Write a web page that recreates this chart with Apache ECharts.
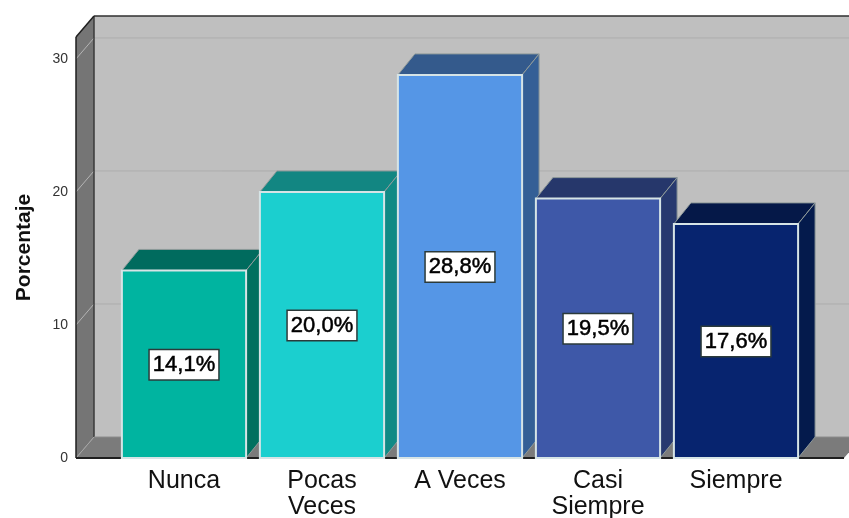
<!DOCTYPE html>
<html><head><meta charset="utf-8">
<style>html,body{margin:0;padding:0;background:#fff}#c{width:849px;height:518px}</style>
<script src="https://cdn.jsdelivr.net/npm/echarts@6/dist/echarts.min.js"></script>
</head><body><div id="c"></div>
<script>
const categories = ["Nunca", "Pocas\nVeces", "A Veces", "Casi\nSiempre", "Siempre"];
const values = [14.1, 20.0, 28.8, 19.5, 17.6];
const valueLabels = ["14,1%", "20,0%", "28,8%", "19,5%", "17,6%"];
const frontColors = ["#00b4a0", "#1bcfcf", "#5596e6", "#3e58a8", "#07246f"];
const topColors = ["#006b5e", "#128682", "#345a8c", "#26376b", "#051848"];
const sideColors = ["#00705f", "#118a85", "#345f96", "#27396f", "#041a4c"];
const gridTicks = [0, 10, 20, 30];
const axisMax = 31.65;
const DX = 17, DY = -21, SIDE = 39;

function poly(points, fill, stroke, lw) {
  return {type: 'polygon', shape: {points}, style: {fill, stroke: stroke || 'none', lineWidth: lw || 0}};
}
function line(x1, y1, x2, y2, stroke, lw) {
  return {type: 'line', shape: {x1, y1, x2, y2}, style: {stroke, lineWidth: lw}};
}
function renderWalls(params, api) {
  const cs = params.coordSys;
  const L = cs.x - SIDE, R = cs.x + cs.width + SIDE, T = cs.y, B = cs.y + cs.height;
  const dx = DX + 1;
  const kids = [
    poly([[L + dx, T + DY], [R + dx, T + DY], [R + dx, B + DY], [L + dx, B + DY]], '#bfbfbf'),
    poly([[L, T], [L + dx, T + DY], [L + dx, B + DY], [L, B]], '#757575'),
    poly([[L, B], [L + dx, B + DY], [R + dx, B + DY], [R, B]], '#7b7b7b')
  ];
  gridTicks.slice(1).forEach(t => {
    const y = api.coord([0, t])[1];
    kids.push(line(L + dx, y + DY, R + dx, y + DY, '#adadad', 1));
    kids.push(line(L, y, L + dx, y + DY, '#b4b4b4', 1));
  });
  kids.push(line(L, B, L + dx, B + DY, '#a5a5a5', 1));
  kids.push(line(L + dx, T + DY, L + dx, B + DY, '#3a3a3a', 1.5));
  kids.push(line(L + dx, B + DY, R + dx, B + DY, '#8c8c8c', 1));
  kids.push(line(L + dx, T + DY, R + dx, T + DY, '#2f2f2f', 1.5));
  kids.push(line(L, T, L + dx, T + DY, '#1f1f1f', 1.5));
  kids.push(line(L, T, L, B, '#1f1f1f', 1.5));
  kids.push(line(L, B, R, B, '#1f1f1f', 2));
  return {type: 'group', children: kids};
}
function renderBar(params, api) {
  const i = params.dataIndex;
  const p = api.coord([api.value(0), api.value(1)]);
  const b = api.coord([api.value(0), 0]);
  const w = api.size([1, 0])[0] * 0.9;
  const x0 = p[0] - w / 2, x1 = p[0] + w / 2, yt = p[1], yb = b[1];
  return {type: 'group', children: [
    poly([[x0, yt], [x0 + DX, yt + DY], [x1 + DX, yt + DY], [x1, yt]], topColors[i], '#8f9a9a', 1),
    poly([[x1, yt], [x1 + DX, yt + DY], [x1 + DX, yb + DY], [x1, yb]], sideColors[i], '#8f9a9a', 1),
    {type: 'rect', shape: {x: x0, y: yt, width: w, height: yb - yt},
     style: {fill: frontColors[i], stroke: '#d6e4e6', lineWidth: 2}},
    {type: 'text', x: p[0], y: (yt + yb) / 2 + 0.5,
     style: {text: valueLabels[i], align: 'center', verticalAlign: 'middle',
       fontFamily: 'Liberation Sans', fontSize: 22, fill: '#000', stroke: '#000', lineWidth: 0.5,
       backgroundColor: '#fff', borderColor: '#2b3a3a', borderWidth: 1.5, padding: [5, 3, 2, 3]}}
  ]};
}
const chart = echarts.init(document.getElementById('c'), null, {renderer: 'canvas'});
chart.setOption({
  animation: false,
  backgroundColor: '#fff',
  grid: {left: 115, top: 37, width: 690, height: 421, containLabel: false, outerBoundsMode: 'none'},
  xAxis: {type: 'category', data: categories, axisLine: {show: false}, axisTick: {show: false},
    axisLabel: {fontFamily: 'Liberation Sans', fontSize: 25, lineHeight: 26, color: '#111', margin: 10, interval: 0}},
  yAxis: {type: 'value', min: 0, max: axisMax, interval: 10, offset: SIDE,
    name: 'Porcentaje', nameLocation: 'middle', nameGap: 41, nameRotate: 90,
    nameTextStyle: {fontFamily: 'Liberation Sans', fontSize: 21, fontWeight: 'bold', color: '#111'},
    axisLine: {show: false}, axisTick: {show: false}, splitLine: {show: false},
    axisLabel: {fontFamily: 'Liberation Sans', fontSize: 14, color: '#333', margin: 8, showMaxLabel: false, padding: [5, 0, 0, 0]}},
  series: [
    {type: 'custom', silent: true, clip: false, z: 1, renderItem: renderWalls, data: [[0, 0]], encode: {x: 0, y: 1}},
    {type: 'custom', silent: true, clip: false, z: 2, renderItem: renderBar,
     data: values.map((v, i) => [i, v]), encode: {x: 0, y: 1}}
  ]
});
</script></body></html>
